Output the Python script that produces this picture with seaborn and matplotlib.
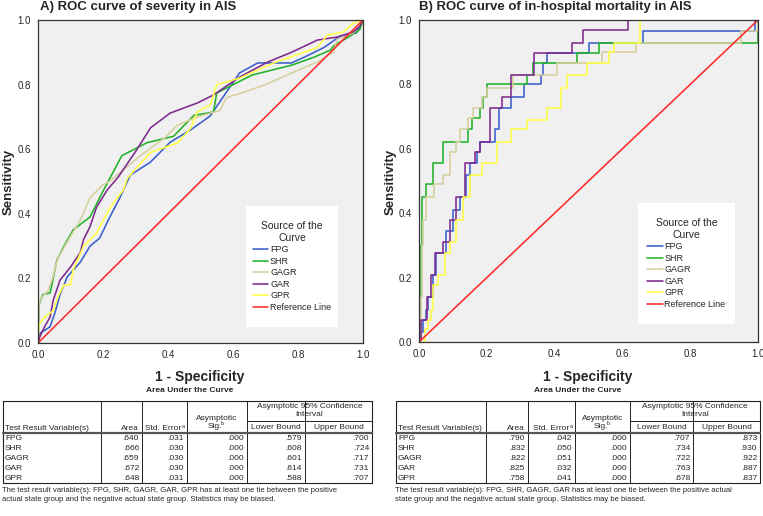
import matplotlib
matplotlib.use("Agg")
import matplotlib.pyplot as plt
from matplotlib.patches import Rectangle
import pandas as pd
import seaborn as sns

curves = ["FPG", "SHR", "GAGR", "GAR", "GPR"]
palette = ["#3a5fcd", "#22b22a", "#d6cf9e", "#7e2a8e", "#ffff44"]
ref_color = "#ff2a2a"

# ---- A) severity: points (1-specificity, sensitivity)
a_fpg_x = [0, 0.006, 0.037, 0.052, 0.068, 0.09, 0.13, 0.16, 0.19, 0.216, 0.253, 0.284, 0.346, 0.407,
           0.47, 0.53, 0.58, 0.62, 0.676, 0.78, 0.83, 0.88, 0.93, 0.98, 1]
a_fpg_y = [0, 0.03, 0.05, 0.093, 0.15, 0.205, 0.25, 0.30, 0.325, 0.38, 0.452, 0.52, 0.56, 0.622,
           0.66, 0.703, 0.777, 0.836, 0.867, 0.867, 0.89, 0.915, 0.95, 0.96, 1]
a_shr_x = [0, 0.003, 0.015, 0.037, 0.045, 0.058, 0.08, 0.108, 0.16, 0.2, 0.258, 0.335, 0.417, 0.48,
           0.54, 0.55, 0.62, 0.66, 0.78, 0.85, 0.90, 0.91, 0.955, 0.99, 1]
a_shr_y = [0, 0.118, 0.15, 0.155, 0.19, 0.257, 0.30, 0.35, 0.39, 0.47, 0.58, 0.62, 0.64, 0.705,
           0.715, 0.774, 0.81, 0.83, 0.86, 0.885, 0.907, 0.92, 0.947, 0.97, 1]
a_gagr_x = [0, 0.003, 0.01, 0.03, 0.045, 0.06, 0.1, 0.13, 0.16, 0.2, 0.22, 0.315, 0.39, 0.43, 0.49,
            0.56, 0.58, 0.63, 0.70, 0.78, 0.86, 0.91, 0.92, 0.97, 1]
a_gagr_y = [0, 0.12, 0.14, 0.16, 0.2, 0.26, 0.33, 0.38, 0.45, 0.49, 0.50, 0.58, 0.635, 0.675, 0.70,
            0.72, 0.76, 0.775, 0.80, 0.836, 0.87, 0.90, 0.94, 0.96, 1]
a_gar_x = [0, 0.006, 0.02, 0.037, 0.047, 0.068, 0.1, 0.13, 0.14, 0.16, 0.18, 0.213, 0.247, 0.305,
           0.346, 0.407, 0.49, 0.54, 0.62, 0.707, 0.78, 0.86, 0.92, 0.97, 0.99, 1]
a_gar_y = [0, 0.02, 0.05, 0.08, 0.133, 0.195, 0.235, 0.28, 0.32, 0.36, 0.42, 0.474, 0.514, 0.60,
           0.666, 0.712, 0.743, 0.768, 0.823, 0.87, 0.90, 0.938, 0.947, 0.963, 0.98, 1]
a_gpr_x = [0, 0.003, 0.02, 0.047, 0.06, 0.08, 0.1, 0.108, 0.14, 0.18, 0.222, 0.263, 0.275, 0.346,
           0.43, 0.47, 0.49, 0.53, 0.55, 0.62, 0.725, 0.79, 0.86, 0.89, 0.94, 0.97, 1]
a_gpr_y = [0, 0.056, 0.08, 0.10, 0.14, 0.18, 0.18, 0.226, 0.30, 0.34, 0.42, 0.474, 0.51, 0.59,
           0.62, 0.665, 0.715, 0.737, 0.80, 0.82, 0.867, 0.89, 0.915, 0.953, 0.963, 0.99, 1]

# ---- B) in-hospital mortality: step corners (x where the curve climbs, height after the climb)
b_fpg_x = [0, 0.006, 0.012, 0.02, 0.027, 0.041, 0.05, 0.08, 0.10, 0.12, 0.14, 0.15, 0.17, 0.18,
           0.224, 0.235, 0.27, 0.31, 0.36, 0.366, 0.377, 0.50, 0.66, 0.99, 1.0]
b_fpg_y = [0, 0.03, 0.068, 0.10, 0.14, 0.207, 0.275, 0.345, 0.41, 0.45, 0.52, 0.556, 0.59, 0.62,
           0.66, 0.727, 0.76, 0.80, 0.83, 0.866, 0.897, 0.93, 0.966, 1.0, 1.0]
b_shr_x = [0, 0.003, 0.005, 0.008, 0.02, 0.041, 0.071, 0.145, 0.156, 0.18, 0.19, 0.20, 0.32, 0.336,
           0.466, 0.53, 1.0]
b_shr_y = [0, 0.14, 0.30, 0.45, 0.49, 0.556, 0.62, 0.66, 0.695, 0.727, 0.76, 0.80, 0.83, 0.866,
           0.897, 0.93, 1.0]
b_gagr_x = [0, 0.005, 0.01, 0.012, 0.02, 0.045, 0.071, 0.09, 0.11, 0.12, 0.145, 0.16, 0.186, 0.20,
            0.277, 0.407, 0.54, 0.64, 0.95, 1.0]
b_gagr_y = [0, 0.14, 0.30, 0.38, 0.45, 0.49, 0.52, 0.59, 0.62, 0.66, 0.695, 0.727, 0.76, 0.79,
            0.83, 0.866, 0.90, 0.93, 0.966, 1.0]
b_gar_x = [0, 0.006, 0.025, 0.036, 0.047, 0.071, 0.09, 0.11, 0.136, 0.165, 0.18, 0.21, 0.245, 0.27,
           0.34, 0.45, 0.484, 0.617, 1.0]
b_gar_y = [0, 0.068, 0.14, 0.207, 0.275, 0.31, 0.38, 0.45, 0.556, 0.59, 0.62, 0.727, 0.76, 0.83,
           0.897, 0.93, 0.97, 1.0, 1.0]
b_gpr_x = [0, 0.018, 0.027, 0.036, 0.041, 0.057, 0.077, 0.09, 0.11, 0.13, 0.15, 0.186, 0.23, 0.27,
           0.32, 0.377, 0.42, 0.436, 0.495, 0.56, 0.575, 0.652, 1.0]
b_gpr_y = [0, 0.04, 0.068, 0.10, 0.177, 0.207, 0.275, 0.31, 0.38, 0.45, 0.52, 0.556, 0.62, 0.66,
           0.69, 0.727, 0.79, 0.83, 0.866, 0.90, 0.93, 1.0, 1.0]

ref_x = [0, 1]
ref_y = [0, 1]

# ---- AUC tables
auc_a = [.640, .666, .659, .672, .648]
se_a = [.031, .030, .030, .030, .031]
sig_a = [.000, .000, .000, .000, .000]
lo_a = [.579, .608, .601, .614, .588]
hi_a = [.700, .724, .717, .731, .707]
note_a = ("The test result variable(s): FPG, SHR, GAGR, GAR, GPR has at least one tie between the positive\n"
          "actual state group and the negative actual state group. Statistics may be biased.")

auc_b = [.790, .832, .822, .825, .758]
se_b = [.042, .050, .051, .032, .041]
sig_b = [.000, .000, .000, .000, .000]
lo_b = [.707, .734, .722, .763, .678]
hi_b = [.873, .930, .922, .887, .837]
note_b = ("The test result variable(s): FPG, SHR, GAGR, GAR has at least one tie between the positive actual\n"
          "state group and the negative actual state group. Statistics may be biased.")


def long_df(xs, ys):
    frames = []
    for name, x, y in zip(curves, xs, ys):
        frames.append(pd.DataFrame({"fpr": x, "tpr": y, "curve": name}))
    return pd.concat(frames, ignore_index=True)


def fmt(v):
    return f"{v:.3f}".lstrip("0")


def roc_panel(ax, df, steps):
    kw = {"drawstyle": "steps-post"} if steps else {}
    sns.lineplot(data=df, x="fpr", y="tpr", hue="curve", hue_order=curves, palette=palette,
                 sort=False, estimator=None, linewidth=1.15, ax=ax, **kw)
    sns.lineplot(x=ref_x, y=ref_y, color=ref_color, linewidth=1.15, label="Reference Line", ax=ax)
    ax.set_facecolor("#f0f0f0")
    ax.set_xlim(0, 1)
    ax.set_ylim(0, 1)
    ax.set_xticks([0, 0.2, 0.4, 0.6, 0.8, 1.0])
    ax.set_yticks([0, 0.2, 0.4, 0.6, 0.8, 1.0])
    ax.set_xticklabels(["0.0", "0.2", "0.4", "0.6", "0.8", "1.0"])
    ax.set_yticklabels(["0.0", "0.2", "0.4", "0.6", "0.8", "1.0"])
    ax.tick_params(labelsize=7, length=3, width=0.8, pad=2, direction="out")
    ax.set_xlabel("")
    ax.set_ylabel("")
    for s in ax.spines.values():
        s.set_color("#333333")
        s.set_linewidth(0.9)


def legend(ax, x0, y0, w, h):
    ax.add_patch(Rectangle((x0, y0), w, h, transform=ax.transAxes, facecolor="white",
                           edgecolor="none", zorder=4))
    lg = ax.legend(title="Source of the\nCurve", loc="center", bbox_to_anchor=(x0 + w / 2, y0 + h / 2),
                   frameon=False, fontsize=6.5, title_fontsize=7.5, handlelength=1.7,
                   handletextpad=0.2, labelspacing=0.28, borderpad=0.3)
    lg.get_title().set_multialignment("center")
    lg.set_zorder(5)


def table(ov, cols, names, area, se, sig, lo, hi, note, center):
    top = 401
    hdr = 433
    rowh = 10
    bottom = hdr + rowh * len(names)
    left, right = cols[0], cols[-1]
    lc = "#222222"
    ov.plot([left, right, right, left, left], [top, top, bottom, bottom, top], color=lc, lw=0.8)
    for c in cols[1:-1]:
        ov.plot([c, c], [top, bottom], color=lc, lw=0.7)
    ov.plot([cols[4], right], [421, 421], color=lc, lw=0.7)
    ov.plot([left, right], [hdr, hdr], color="#555555", lw=1.6)
    fs = 6
    ov.text(center, 391, "Area Under the Curve", ha="center", va="center", fontsize=6, fontweight="bold")
    ov.text(left + 2, 429, "Test Result Variable(s)", ha="left", va="center", fontsize=fs)
    ov.plot([left + 2, cols[1] - 10], [432, 432], color="#555555", lw=0.5, ls=":")
    ov.text(cols[2] - 3, 429, "Area", ha="right", va="center", fontsize=fs)
    ov.text(cols[3] - 6, 429, "Std. Error", ha="right", va="center", fontsize=fs)
    ov.text(cols[3] - 5.5, 426, "a", ha="left", va="center", fontsize=4)
    ov.text((cols[3] + cols[4]) / 2, 418, "Asymptotic", ha="center", va="center", fontsize=fs)
    ov.text((cols[3] + cols[4]) / 2 - 2, 426.5, "Sig.", ha="center", va="center", fontsize=fs)
    ov.text((cols[3] + cols[4]) / 2 + 4, 423.5, "b", ha="left", va="center", fontsize=4)
    ov.text((cols[4] + cols[6]) / 2, 407, "Asymptotic 95% Confidence", ha="center", va="center", fontsize=fs)
    ov.text((cols[4] + cols[6]) / 2, 415, "Interval", ha="center", va="center", fontsize=fs)
    ov.text((cols[4] + cols[5]) / 2, 427.5, "Lower Bound", ha="center", va="center", fontsize=fs)
    ov.text((cols[5] + cols[6]) / 2, 427.5, "Upper Bound", ha="center", va="center", fontsize=fs)
    for i, n in enumerate(names):
        y = hdr + rowh * i + rowh / 2 + 0.5
        ov.text(left + 2, y, n, ha="left", va="center", fontsize=fs)
        vals = [area[i], se[i], sig[i], lo[i], hi[i]]
        for j, v in enumerate(vals):
            ov.text(cols[j + 2] - 3, y, fmt(v), ha="right", va="center", fontsize=fs)
    ov.text(left - 1, bottom + 4, note, ha="left", va="top", fontsize=5.5, linespacing=1.45)


sns.set_style("white")
plt.rcParams["font.family"] = ["Liberation Sans", "DejaVu Sans"]

W, H = 763, 516
fig = plt.figure(figsize=(W / 100, H / 100), dpi=100)

ax_a = fig.add_axes([38 / W, 1 - 343 / H, 325 / W, 323 / H])
roc_panel(ax_a, long_df([a_fpg_x, a_shr_x, a_gagr_x, a_gar_x, a_gpr_x],
                        [a_fpg_y, a_shr_y, a_gagr_y, a_gar_y, a_gpr_y]), steps=False)
legend(ax_a, 0.64, 0.0495, 0.283, 0.375)

ax_b = fig.add_axes([419 / W, 1 - 342 / H, 339 / W, 322 / H])
roc_panel(ax_b, long_df([b_fpg_x, b_shr_x, b_gagr_x, b_gar_x, b_gpr_x],
                        [b_fpg_y, b_shr_y, b_gagr_y, b_gar_y, b_gpr_y]), steps=True)
legend(ax_b, 0.646, 0.056, 0.286, 0.376)

# overlay in pixel units for titles, labels and the AUC tables
ov = fig.add_axes([0, 0, 1, 1])
ov.set_xlim(0, W)
ov.set_ylim(H, 0)
ov.axis("off")
ov.patch.set_alpha(0)

ov.text(40, 7, "A) ROC curve of severity in AIS", ha="left", va="center", fontsize=9.5, fontweight="bold")
ov.text(419, 7, "B) ROC curve of in-hospital mortality in AIS", ha="left", va="center",
        fontsize=9.5, fontweight="bold")
ov.text(9, 182, "Sensitivity", rotation=90, ha="center", va="center", fontsize=9.5, fontweight="bold")
ov.text(391, 182, "Sensitivity", rotation=90, ha="center", va="center", fontsize=9.5, fontweight="bold")
ov.text(200, 377, "1 - Specificity", ha="center", va="center", fontsize=10, fontweight="bold")
ov.text(588, 377, "1 - Specificity", ha="center", va="center", fontsize=10, fontweight="bold")

table(ov, [3, 101, 142, 187, 247, 305, 372], curves, auc_a, se_a, sig_a, lo_a, hi_a, note_a, 190)
table(ov, [396, 486, 528, 575, 630, 693, 760], curves, auc_b, se_b, sig_b, lo_b, hi_b, note_b, 578)

fig.savefig("out.png", dpi=100)
